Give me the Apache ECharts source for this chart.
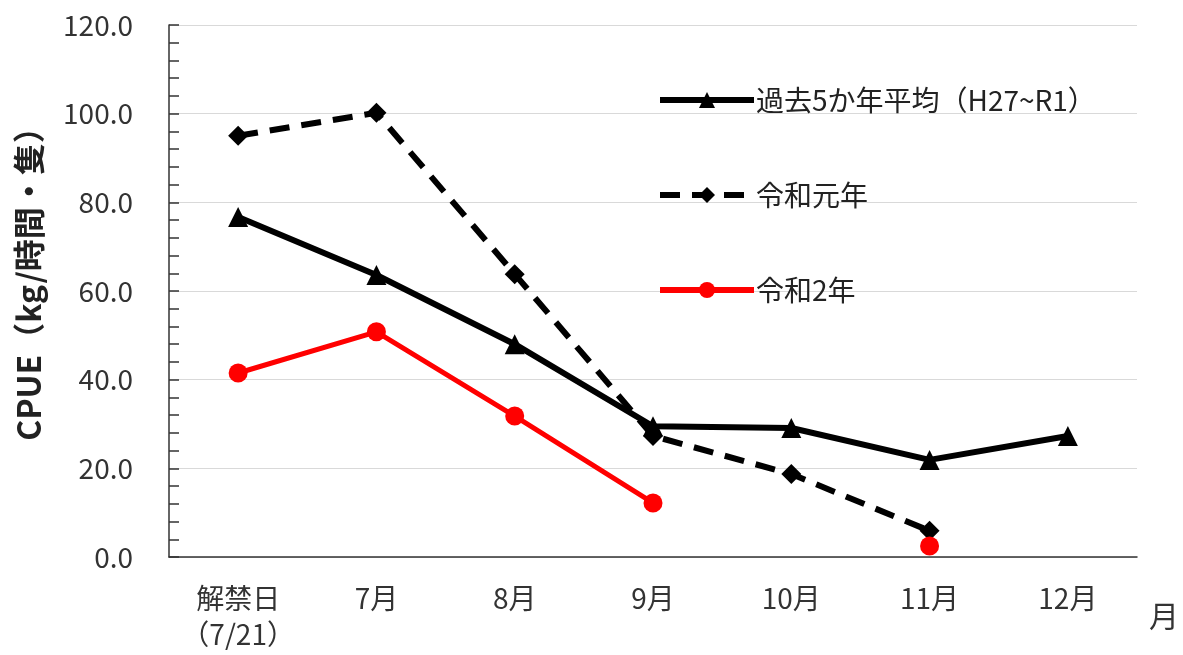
<!DOCTYPE html>
<html><head><meta charset="utf-8">
<script src="https://cdn.jsdelivr.net/npm/echarts@6/dist/echarts.min.js"></script>
<style>html,body{margin:0;padding:0;background:#fff}#c{width:1183px;height:655px}</style>
</head><body><div id="c"></div>
<script>
const categories = ['解禁日\n（7/21）','7月','8月','9月','10月','11月','12月'];
const avg5 = [76.7, 63.6, 48.0, 29.5, 29.1, 21.9, 27.3];
const r1 = [95.0, 100.2, 63.8, 27.3, 18.7, 5.9, null];
const r2 = [41.5, 50.8, 31.8, 12.2, null, 2.5, null];
const yTicks = [0, 20, 40, 60, 80, 100, 120];
const names = ['過去5か年平均（H27~R1）','令和元年','令和2年'];

const font = '"Noto Sans CJK JP", "Noto Sans", sans-serif';
const chart = echarts.init(document.getElementById('c'));
chart.setOption({
  animation:false,
  grid:{left:169,right:46,top:25,bottom:98},
  legend:{
    orient:'vertical', left:652, top:81, itemWidth:94, itemHeight:20, itemGap:67,
    textStyle:{fontFamily:font,fontSize:28,color:'#222',padding:[0,0,0,-3]},
    lineStyle:{width:6},
    data:names
  },
  xAxis:[{
    type:'category', data:categories, boundaryGap:true,
    axisLine:{lineStyle:{color:'#333',width:1.5}},
    axisTick:{inside:true,length:7,lineStyle:{color:'#333',width:1.5}},
    axisLabel:{fontFamily:font,fontSize:28,color:'#333',margin:23,lineHeight:36,interval:0}
  },{
    type:'category', data:categories, boundaryGap:true, position:'bottom',
    axisLine:{show:false},
    axisTick:{inside:true,length:7,alignWithLabel:true,lineStyle:{color:'#333',width:1.5}},
    axisLabel:{show:false}
  }],
  yAxis:[{
    type:'value', min:0, max:120, interval:20,
    name:'CPUE（kg/時間・隻）', nameLocation:'middle', nameGap:124, nameRotate:90,
    nameTextStyle:{fontFamily:font,fontSize:32,fontWeight:'bold',color:'#222',padding:[0,0,0,30]},
    axisLine:{show:true,lineStyle:{color:'#333',width:1.5}},
    axisTick:{show:true,inside:true,length:10,lineStyle:{color:'#333',width:1.5}},
    splitLine:{lineStyle:{color:'#d9d9d9',width:1}},
    axisLabel:{fontFamily:font,fontSize:28,color:'#333',margin:36,
      formatter:v=>yTicks.includes(v)?v.toFixed(1):''}
  },{
    type:'value', min:0, max:120, interval:4, position:'left',
    axisLine:{show:false},
    axisTick:{show:true,inside:true,length:10,lineStyle:{color:'#333',width:1.5}},
    splitLine:{show:false},
    axisLabel:{show:false}
  }],
  series:[
    {name:names[0],type:'line',data:avg5,symbol:'triangle',symbolSize:20,
     lineStyle:{color:'#000',width:6},itemStyle:{color:'#000'}},
    {name:names[1],type:'line',data:r1,symbol:'diamond',symbolSize:20,
     lineStyle:{color:'#000',width:6,type:[20,12]},itemStyle:{color:'#000'}},
    {name:names[2],type:'line',data:r2,symbol:'circle',symbolSize:19,connectNulls:false,
     lineStyle:{color:'#ff0000',width:5},itemStyle:{color:'#ff0000'}}
  ],
  graphic:[{type:'text',left:1149,top:601,style:{text:'月',font:'30px '+font,fill:'#333'}}]
});
</script></body></html>
